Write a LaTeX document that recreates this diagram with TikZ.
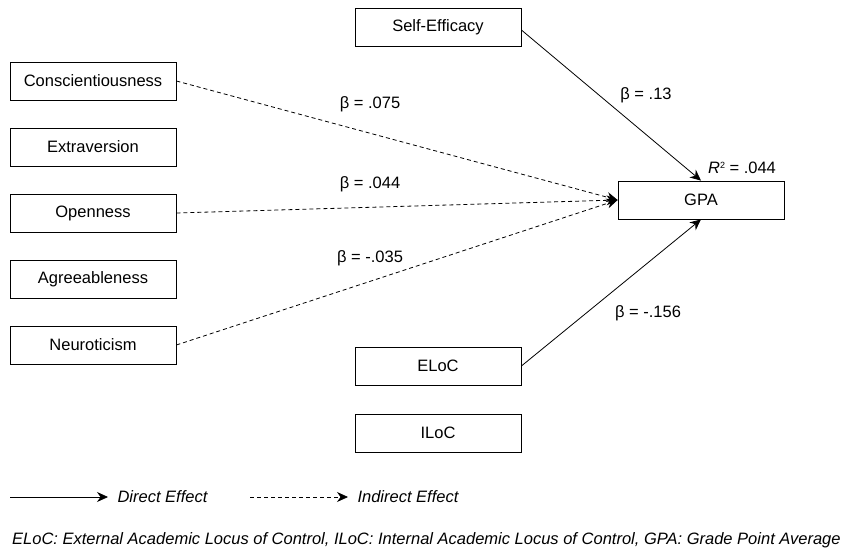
\documentclass[tikz,border=0pt]{standalone}
\usepackage{fontspec}
\setmainfont{Liberation Sans}
\usepackage{tikz}
\usepackage{xcolor}
\usetikzlibrary{shapes, positioning, arrows.meta}

\begin{document}
\begin{tikzpicture}[x=1pt, y=-1pt, font=\fontsize{16.5}{19}\selectfont,
        var/.style={rectangle, draw, thick, minimum width=166pt, minimum height=38pt, inner sep=0pt},
        direct/.style={thick, -{Stealth[length=11pt, width=10pt]}},
        indirect/.style={thick, dash pattern=on 4pt off 3pt, -{Stealth[length=11pt, width=10pt]}}]
        \useasboundingbox (0, 0) rectangle (847, 555);

        \node[var] at (93, 81) (consc) {Conscientiousness};
        \node[var] at (93, 147) (extra) {Extraversion};
        \node[var] at (93, 213) (open) {Openness};
        \node[var] at (93, 279) (agree) {Agreeableness};
        \node[var] at (93, 345) (neuro) {Neuroticism};
        \node[var] at (438, 27) (selfeff) {Self-Efficacy};
        \node[var] at (438, 366) (eloc) {ELoC};
        \node[var] at (438, 433) (iloc) {ILoC};
        \node[var] at (701, 200) (gpa) {GPA};

        \draw[direct] (selfeff.east) ++(0, 3) coordinate (se) (se) to (gpa.north);
        \draw[direct] (eloc.east) to (gpa.south);
        \draw[indirect] (consc.east) to (gpa.west);
        \draw[indirect] (open.east) to (gpa.west);
        \draw[indirect] (neuro.east) to (gpa.west);

        \node at (646, 95) (b1) {β = .13};
        \node at (742, 168) (r2) {\textit{R}\raisebox{5pt}{\fontsize{9}{9}\selectfont 2} = .044};
        \node at (370, 104) (b2) {β = .075};
        \node at (370, 184) (b3) {β = .044};
        \node at (370, 258) (b4) {β = -.035};
        \node at (648, 313) (b5) {β = -.156};

        % legend
        \coordinate (d1) at (10, 497);
        \coordinate (d2) at (108, 497);
        \coordinate (i1) at (250, 497);
        \coordinate (i2) at (348, 497);
        \draw[direct] (d1) to (d2);
        \node[anchor=west] at (114, 497) (dlab) {\textit{Direct Effect}};
        \draw[indirect] (i1) to (i2);
        \node[anchor=west] at (354, 497) (ilab) {\textit{Indirect Effect}};
        \node[anchor=west, inner sep=0pt] at (12, 540) (note) {\textit{ELoC: External Academic Locus of Control, ILoC: Internal Academic Locus of Control, GPA: Grade Point Average}};
    \end{tikzpicture}
\end{document}
